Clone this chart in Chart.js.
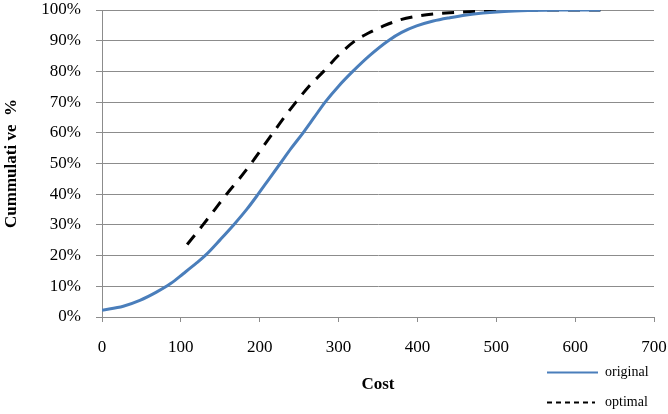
<!DOCTYPE html>
<html>
<head>
<meta charset="utf-8">
<script src="https://cdn.jsdelivr.net/npm/chart.js@4"></script>
<style>
  html, body { margin: 0; padding: 0; background: #fff; }
  #wrap { width: 668px; height: 414px; position: relative; }
</style>
</head>
<body>
<div id="wrap"><canvas id="c" width="668" height="414"></canvas></div>
<script>
const originalCost = [0, 27, 48, 69, 87, 103, 120, 132, 150, 168, 184, 198, 212, 226, 240, 255, 269, 283, 300, 318, 340, 363, 380, 399, 420, 441, 462, 483, 510, 540, 580, 632];
const originalPct  = [2.2, 3.5, 5.4, 8.1, 10.9, 14.1, 17.6, 20.3, 25.2, 30.3, 35.2, 40, 45, 50, 55, 60, 65, 70, 75.2, 80, 85.3, 90, 92.7, 94.8, 96.4, 97.5, 98.4, 99, 99.5, 99.8, 100, 100];
const optimalCost = [108, 128, 143, 158, 174, 189, 203, 217, 231, 246, 262, 281, 299, 321, 338, 357, 378, 399, 420, 441, 483, 530, 632];
const optimalPct  = [23.6, 30, 35, 40, 45, 50, 55, 60, 65, 70, 75, 80, 85, 90, 92.5, 94.8, 96.8, 98, 98.7, 99.1, 99.6, 100, 100];
const xTicks = [0, 100, 200, 300, 400, 500, 600, 700];
const yTicks = [0, 10, 20, 30, 40, 50, 60, 70, 80, 90, 100];
const seriesNames = ['original', 'optimal'];

const toPts = (xs, ys) => xs.map((x, i) => ({ x: x, y: ys[i] }));
const GRID = '#8c8c8c';
const SERIF = '"Liberation Serif", "Times New Roman", serif';

const legendPlugin = {
  id: 'stackLegend',
  afterDraw(chart) {
    const ctx = chart.ctx;
    const rows = [372.5, 402.5];
    chart.data.datasets.forEach((ds, i) => {
      const y = rows[i];
      ctx.save();
      ctx.strokeStyle = ds.borderColor;
      ctx.lineWidth = 2;
      ctx.setLineDash(ds.borderDash && ds.borderDash.length ? [5, 4] : []);
      ctx.beginPath();
      ctx.moveTo(547, y);
      ctx.lineTo(i === 0 ? 598 : 595, y);
      ctx.stroke();
      ctx.setLineDash([]);
      ctx.fillStyle = '#000';
      ctx.font = '14px ' + SERIF;
      ctx.textBaseline = 'middle';
      ctx.textAlign = 'left';
      ctx.fillText(ds.label, 605, y);
      ctx.restore();
    });
  }
};

const noPad = s => { s.paddingTop = 0; s.paddingBottom = 0; s.paddingLeft = 0; s.paddingRight = 0; };

new Chart(document.getElementById('c'), {
  type: 'line',
  data: {
    datasets: [
      {
        label: seriesNames[0],
        data: toPts(originalCost, originalPct),
        borderColor: '#4a7ebb',
        borderWidth: 3,
        pointRadius: 0,
        cubicInterpolationMode: 'monotone',
        fill: false
      },
      {
        label: seriesNames[1],
        data: toPts(optimalCost, optimalPct),
        borderColor: '#000000',
        borderWidth: 3,
        borderDash: [12, 9],
        pointRadius: 0,
        cubicInterpolationMode: 'monotone',
        fill: false
      }
    ]
  },
  options: {
    responsive: false,
    animation: false,
    events: [],
    layout: { padding: { top: 10, right: 14, left: 0, bottom: 0 } },
    plugins: { legend: { display: false }, tooltip: { enabled: false } },
    scales: {
      x: {
        type: 'linear',
        min: 0, max: 700,
        afterBuildTicks: s => { s.ticks = xTicks.map(v => ({ value: v })); },
        afterFit: s => { s.height = 97; noPad(s); },
        grid: { drawOnChartArea: false, drawTicks: true, tickLength: 5, color: GRID, tickColor: GRID, lineWidth: 1 },
        border: { color: GRID, width: 1 },
        ticks: { color: '#000', padding: 15, maxRotation: 0, font: { family: SERIF, size: 17 } },
        title: { display: true, text: 'Cost', color: '#000', padding: { top: 0, bottom: 19 }, font: { family: SERIF, size: 17, weight: 'bold' } }
      },
      y: {
        type: 'linear',
        min: 0, max: 100,
        afterBuildTicks: s => { s.ticks = yTicks.map(v => ({ value: v })); },
        afterFit: s => { s.width = 102; noPad(s); },
        grid: { drawTicks: true, tickLength: 6, color: GRID, tickColor: GRID, lineWidth: 1 },
        border: { color: GRID, width: 1 },
        ticks: { color: '#000', padding: 15, callback: v => v + '%', font: { family: SERIF, size: 17 } },
        title: { display: true, text: 'Cummulati ve  %', color: '#000', padding: { top: 1, bottom: 0 }, font: { family: SERIF, size: 17, weight: 'bold' } }
      }
    }
  },
  plugins: [legendPlugin]
});
</script>
</body>
</html>
